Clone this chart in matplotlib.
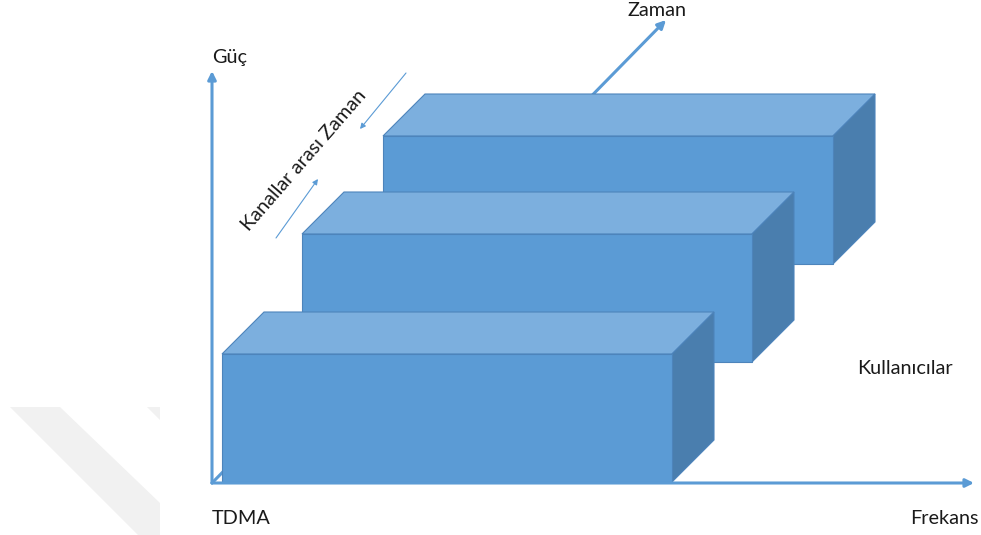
import matplotlib
matplotlib.use("Agg")
import matplotlib.pyplot as plt
from matplotlib.patches import Polygon

plt.rcParams['font.family'] = ['Lato', 'DejaVu Sans']

# Diagram geometry (pixel space of the reference)
box_left = [383, 302, 222]      # back -> front
box_bottom = [264, 362, 482]
box_width = 450
box_height = 128
box_depth = 42

axis_origin = (212, 483)
power_tip = (212, 71)
freq_tip = (974, 483)
time_tip = (666, 20)

labels = {
    "Güç": (212, 57, 'left'),
    "Zaman": (657, 11, 'center'),
    "Kullanıcılar": (905, 368, 'center'),
    "Frekans": (979, 518, 'right'),
    "TDMA": (212, 518, 'left'),
}

FRONT = '#5b9bd5'
TOP = '#7cafde'
SIDE = '#4a7eae'
EDGE = '#4d84bb'
AXIS = '#5b9bd5'
FS = 14.3

fig = plt.figure(figsize=(9.81, 5.35), dpi=100)
ax = fig.add_axes([0, 0, 1, 1])
ax.set_xlim(0, 981)
ax.set_ylim(535, 0)
ax.axis('off')

# faint watermark bands
ax.add_patch(Polygon([(10, 407), (60, 407), (160, 503), (160, 535), (138, 535)],
                     closed=True, facecolor='#f1f1f1', edgecolor='none', zorder=0))
ax.add_patch(Polygon([(147, 407), (160, 407), (160, 420)],
                     closed=True, facecolor='#f1f1f1', edgecolor='none', zorder=0))

# time axis (diagonal, mostly hidden behind boxes)
ax.annotate('', xy=time_tip, xytext=axis_origin,
            arrowprops=dict(arrowstyle='-|>', color=AXIS, lw=2.2,
                            mutation_scale=12, shrinkA=0, shrinkB=0), zorder=1)

z = 2
for L, B in zip(box_left, box_bottom):
    T = B - box_height
    R = L + box_width
    d = box_depth
    top = [(L, T), (R, T), (R + d, T - d), (L + d, T - d)]
    side = [(R, T), (R + d, T - d), (R + d, B - d), (R, B)]
    front = [(L, T), (R, T), (R, B), (L, B)]
    for pts, col in ((top, TOP), (side, SIDE), (front, FRONT)):
        ax.add_patch(Polygon(pts, closed=True, facecolor=col, edgecolor=EDGE,
                             lw=0.8, zorder=z))
    z += 1

# power and frequency axes
ax.annotate('', xy=power_tip, xytext=axis_origin,
            arrowprops=dict(arrowstyle='-|>', color=AXIS, lw=2.2,
                            mutation_scale=12, shrinkA=0, shrinkB=0), zorder=10)
ax.annotate('', xy=freq_tip, xytext=axis_origin,
            arrowprops=dict(arrowstyle='-|>', color=AXIS, lw=2.2,
                            mutation_scale=12, shrinkA=0, shrinkB=0), zorder=10)

# inter-channel time arrows
ax.annotate('', xy=(360, 129), xytext=(406, 73),
            arrowprops=dict(arrowstyle='-|>', color=AXIS, lw=0.8,
                            mutation_scale=8, shrinkA=0, shrinkB=0), zorder=10)
ax.annotate('', xy=(318, 179), xytext=(276, 238),
            arrowprops=dict(arrowstyle='-|>', color=AXIS, lw=0.8,
                            mutation_scale=8, shrinkA=0, shrinkB=0), zorder=10)

for txt, (x, y, ha) in labels.items():
    ax.text(x, y, txt, fontsize=FS, color='#1a1a1a', ha=ha, va='center', zorder=11)

ax.text(304, 160, "Kanallar arası Zaman", fontsize=FS, color='#1a1a1a',
        rotation=49, rotation_mode='anchor', ha='center', va='center', zorder=11)

fig.savefig('out.png', dpi=100)
